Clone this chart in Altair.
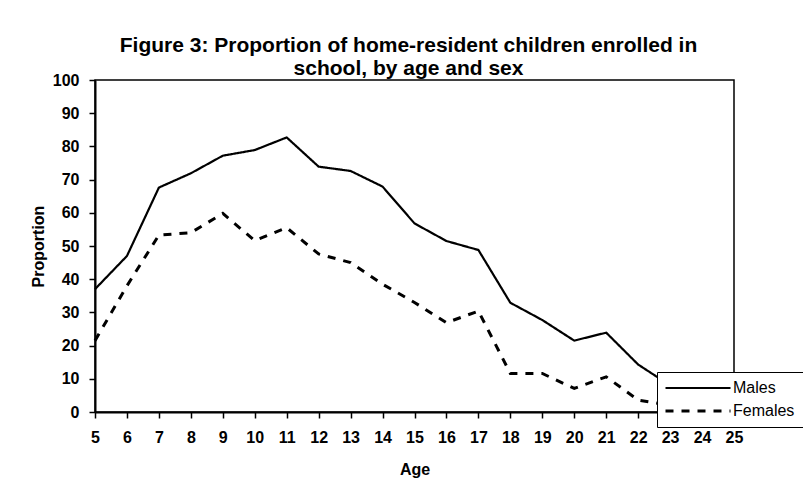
import altair as alt
import pandas as pd

ages = list(range(5, 26))
males = [37, 47, 67.6, 71.9, 77.2, 78.9, 82.7, 73.9, 72.6, 67.9, 56.8, 51.5,
         48.8, 32.9, 27.7, 21.5, 23.9, 14.3, 8, 5, 4]
females = [21.5, 38, 53.3, 54.0, 59.8, 51.6, 55.5, 47.6, 45, 38.5, 33, 26.9,
           30.4, 11.6, 11.6, 7.1, 10.6, 3.6, 2, 1, 1]
series = ["Males", "Females"]
y_ticks = list(range(0, 101, 10))
title_lines = ["Figure 3: Proportion of home-resident children enrolled in",
               "school, by age and sex"]

df = pd.DataFrame({
    "Age": ages * 2,
    "Proportion": males + females,
    "Sex": [series[0]] * len(ages) + [series[1]] * len(ages),
})

FONT = "Liberation Sans"

chart = alt.Chart(df).mark_line(color="black").encode(
    x=alt.X("Age:Q", scale=alt.Scale(domain=[5, 25], nice=False, zero=False),
            axis=alt.Axis(values=ages, title="Age", titlePadding=16,
                          labelPadding=11, labelFlush=False)),
    y=alt.Y("Proportion:Q", scale=alt.Scale(domain=[0, 100], nice=False),
            axis=alt.Axis(values=y_ticks, title="Proportion", titlePadding=6,
                          labelPadding=10)),
    strokeDash=alt.StrokeDash(
        "Sex:N",
        scale=alt.Scale(domain=series, range=[[1, 0], [8, 8]]),
        legend=alt.Legend(
            title=None, orient="none", legendX=562, legendY=292,
            fillColor="white", strokeColor="black", padding=8,
            symbolType="M-5,0H5", symbolSize=169, symbolStrokeWidth=2.5,
            symbolStrokeColor="black", symbolOffset=25,
            labelFontSize=16, labelFont=FONT,
            labelColor="black", labelOffset=27, rowPadding=7,
        ),
    ),
    strokeWidth=alt.StrokeWidth(
        "Sex:N", scale=alt.Scale(domain=series, range=[2.2, 3.0]), legend=None
    ),
    order="Age:Q",
).properties(
    width=639,
    height=332,
    title=alt.TitleParams(title_lines, fontSize=21, font=FONT, fontWeight="bold",
                          color="black", anchor="middle", offset=-7, dx=-6,
                          lineHeight=23),
    autosize=alt.AutoSizeParams(type="none"),
    padding={"left": 95, "top": 80, "right": 69, "bottom": 81},
).configure_view(
    stroke="black", strokeWidth=1.5
).configure_axis(
    grid=False, domainColor="black", domainWidth=2, tickColor="black",
    tickWidth=1.5, tickSize=6, labelFontSize=16, labelFont=FONT,
    labelFontWeight="bold",
    labelColor="black", titleFontSize=16, titleFont=FONT, titleFontWeight="bold",
    titleColor="black",
)

chart.save("out.html", embed_options={"renderer": "svg", "actions": False})
